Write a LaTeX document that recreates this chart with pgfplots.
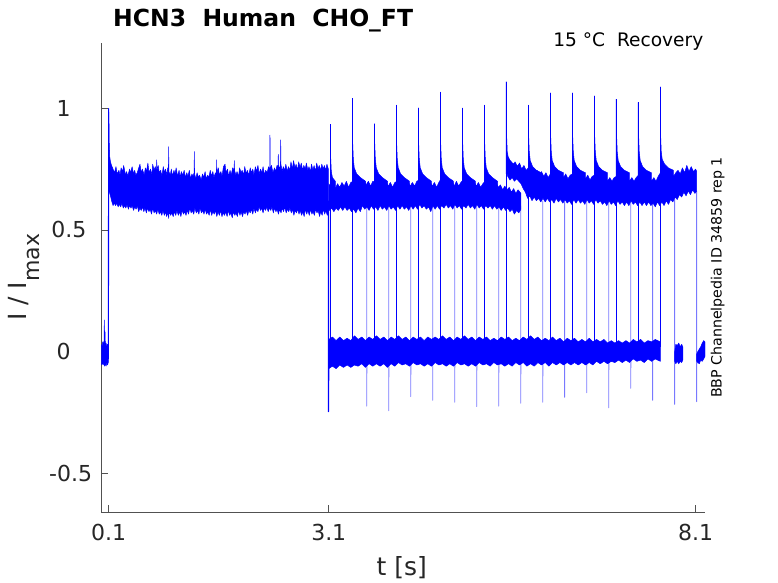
\documentclass[border=0pt]{standalone}
\usepackage{pgfplots}
\pgfplotsset{compat=1.18}
\usepackage{fontspec}
\setmainfont{DejaVu Sans}
\definecolor{axgray}{RGB}{38,38,38}
\definecolor{fallblue}{RGB}{120,120,255}
\pgfplotsset{
  band/.style={fill=blue, draw=blue, line width=0.5bp, mark=none, line join=round},
  spike/.style={draw=blue, line width=1.1bp, mark=none, line join=round},
  fallc/.style={draw=fallblue, line width=0.8bp, mark=none, line join=round},
}
\begin{document}
\begin{tikzpicture}
\path[use as bounding box] (0,0) rectangle (778bp,583bp);
\begin{axis}[
  at={(101.3bp,71bp)}, anchor=south west,
  scale only axis, width=603.7bp, height=468.7bp,
  xmin=0, xmax=8.228, ymin=-0.6592, ymax=1.267,
  axis x line=bottom, axis y line=left,
  axis line style={-, draw=axgray!80, line width=0.55bp},
  tick align=inside, major tick length=6.5bp,
  tick style={draw=axgray!80, line width=0.55bp},
  xtick={0.1,3.1,8.1}, xticklabels={0.1,3.1,8.1},
  ytick={-0.5,0,0.5,1}, yticklabels={-0.5,{0\hspace*{21.5bp}},{0.5\hspace*{5.8bp}},{1\hspace*{21.4bp}}},
  tick label style={font=\fontsize{22bp}{26bp}\selectfont, text=axgray},
  xticklabel style={anchor=base, inner sep=0pt, yshift=-29bp},
  yticklabel style={anchor=east, inner sep=0pt, xshift=-9bp},
]
% falls (tail currents)
\addplot[fallc] coordinates {(3.617,0.60) (3.617,-0.224) (3.620,-0.04)};
\addplot[fallc] coordinates {(3.917,0.60) (3.917,-0.243) (3.920,-0.04)};
\addplot[fallc] coordinates {(4.217,0.60) (4.217,-0.185) (4.220,-0.04)};
\addplot[fallc] coordinates {(4.516,0.60) (4.516,-0.200) (4.519,-0.04)};
\addplot[fallc] coordinates {(4.816,0.60) (4.816,-0.208) (4.819,-0.04)};
\addplot[fallc] coordinates {(5.116,0.60) (5.116,-0.226) (5.119,-0.04)};
\addplot[fallc] coordinates {(5.416,0.60) (5.416,-0.224) (5.419,-0.04)};
\addplot[fallc] coordinates {(5.716,0.60) (5.716,-0.212) (5.719,-0.04)};
\addplot[fallc] coordinates {(6.016,0.62) (6.016,-0.208) (6.019,-0.04)};
\addplot[fallc] coordinates {(6.315,0.62) (6.315,-0.188) (6.318,-0.04)};
\addplot[fallc] coordinates {(6.615,0.62) (6.615,-0.169) (6.618,-0.04)};
\addplot[fallc] coordinates {(6.915,0.62) (6.915,-0.231) (6.918,-0.04)};
\addplot[fallc] coordinates {(7.215,0.62) (7.215,-0.151) (7.218,-0.04)};
\addplot[fallc] coordinates {(7.514,0.62) (7.514,-0.200) (7.517,-0.04)};
\addplot[fallc] coordinates {(7.814,0.63) (7.814,-0.217) (7.817,-0.04)};
\addplot[fallc] coordinates {(8.114,0.66) (8.114,-0.206) (8.117,-0.04)};
% pre-pulse baseline
\addplot[band] coordinates {(0.0,0.03) (0.01,0.02) (0.02,0.04) (0.03,0.03) (0.038,0.045) (0.041,0.13) (0.045,0.05) (0.05,0.085) (0.055,0.03) (0.065,0.035) (0.075,0.02) (0.085,0.03) (0.095,0.02)
 (0.095,-0.045) (0.085,-0.055) (0.075,-0.045) (0.065,-0.06) (0.055,-0.05) (0.045,-0.06) (0.035,-0.045) (0.025,-0.055) (0.015,-0.045) (0.005,-0.055) (0.0,-0.04)} -- cycle;
% activation step 0.1 - 3.1
\addplot[band] coordinates {(0.100,1.00) (0.104,0.96) (0.108,0.86) (0.115,0.80) (0.125,0.78) (0.14,0.765) (0.16,0.75)
 (0.18,0.735) (0.20,0.76) (0.215,0.73) (0.24,0.745) (0.255,0.725) (0.27,0.755) (0.29,0.74) (0.305,0.765) (0.33,0.725) (0.345,0.74) (0.36,0.72) (0.385,0.75) (0.40,0.735) (0.42,0.76) (0.44,0.73) (0.455,0.745) (0.47,0.725) (0.49,0.735) (0.51,0.755) (0.527,0.77) (0.545,0.735) (0.56,0.75) (0.585,0.725) (0.60,0.755) (0.615,0.74) (0.635,0.775) (0.65,0.735) (0.67,0.75) (0.69,0.725) (0.70,0.77) (0.72,0.745) (0.735,0.76) (0.752,0.74) (0.755,0.788) (0.758,0.745) (0.775,0.765) (0.79,0.735) (0.81,0.745) (0.825,0.72) (0.845,0.76) (0.86,0.735) (0.875,0.75) (0.895,0.725) (0.905,0.755) (0.915,0.74) (0.918,0.842) (0.921,0.74) (0.94,0.725) (0.955,0.75) (0.97,0.72) (0.99,0.745) (1.005,0.73) (1.02,0.755) (1.04,0.72) (1.06,0.745) (1.075,0.715) (1.09,0.74) (1.11,0.725) (1.13,0.745) (1.145,0.715) (1.165,0.735) (1.18,0.72) (1.20,0.745) (1.215,0.71) (1.235,0.73) (1.25,0.72) (1.265,0.735) (1.268,0.822) (1.271,0.73) (1.29,0.71) (1.305,0.735) (1.325,0.715) (1.34,0.725) (1.36,0.705) (1.38,0.73) (1.395,0.715) (1.415,0.74) (1.43,0.71) (1.45,0.725) (1.465,0.715) (1.485,0.745) (1.50,0.72) (1.52,0.74) (1.535,0.715) (1.555,0.735) (1.569,0.73) (1.572,0.788) (1.575,0.73) (1.595,0.755) (1.61,0.725) (1.63,0.74) (1.645,0.72) (1.665,0.76) (1.686,0.77) (1.70,0.735) (1.72,0.75) (1.735,0.72) (1.755,0.745) (1.77,0.725) (1.79,0.755) (1.81,0.745) (1.813,0.785) (1.816,0.745) (1.835,0.725) (1.85,0.74) (1.87,0.72) (1.885,0.755) (1.905,0.735) (1.92,0.745) (1.94,0.725) (1.955,0.76) (1.975,0.73) (1.99,0.745) (2.01,0.725) (2.03,0.755) (2.045,0.735) (2.065,0.75) (2.08,0.725) (2.10,0.76) (2.115,0.74) (2.135,0.765) (2.15,0.73) (2.17,0.75) (2.19,0.735) (2.205,0.76) (2.225,0.725) (2.24,0.745) (2.26,0.735) (2.28,0.76) (2.296,0.745) (2.299,0.89) (2.302,0.75) (2.32,0.765) (2.34,0.735) (2.36,0.755) (2.375,0.74) (2.395,0.765) (2.409,0.76) (2.412,0.81) (2.415,0.765) (2.43,0.75) (2.442,0.77) (2.445,0.87) (2.448,0.77) (2.465,0.74) (2.48,0.76) (2.50,0.745) (2.515,0.77) (2.535,0.74) (2.55,0.76) (2.57,0.745) (2.585,0.78) (2.605,0.75) (2.62,0.785) (2.64,0.755) (2.655,0.77) (2.675,0.745) (2.69,0.78) (2.71,0.755) (2.725,0.775) (2.745,0.745) (2.76,0.765) (2.78,0.75) (2.795,0.775) (2.815,0.745) (2.83,0.76) (2.85,0.74) (2.865,0.77) (2.885,0.745) (2.90,0.765) (2.92,0.74) (2.935,0.775) (2.955,0.75) (2.97,0.765) (2.99,0.745) (3.005,0.77) (3.025,0.75) (3.04,0.765) (3.06,0.745) (3.075,0.77) (3.09,0.755) (3.095,0.75)
 (3.095,0.575) (3.08,0.56) (3.06,0.58) (3.045,0.565) (3.025,0.585) (3.01,0.56) (2.99,0.575) (2.975,0.555) (2.955,0.58) (2.94,0.57) (2.92,0.585) (2.905,0.56) (2.885,0.575) (2.87,0.565) (2.85,0.585) (2.835,0.56) (2.815,0.58) (2.80,0.565) (2.78,0.585) (2.765,0.555) (2.745,0.575) (2.73,0.56) (2.71,0.58) (2.695,0.565) (2.675,0.585) (2.66,0.57) (2.64,0.58) (2.625,0.56) (2.605,0.585) (2.59,0.57) (2.57,0.59) (2.555,0.575) (2.535,0.585) (2.52,0.57) (2.50,0.595) (2.485,0.575) (2.465,0.59) (2.45,0.57) (2.43,0.585) (2.415,0.565) (2.395,0.585) (2.38,0.575) (2.36,0.59) (2.345,0.57) (2.325,0.595) (2.31,0.58) (2.29,0.59) (2.275,0.575) (2.255,0.595) (2.24,0.58) (2.22,0.59) (2.205,0.57) (2.185,0.59) (2.17,0.58) (2.15,0.595) (2.135,0.575) (2.115,0.585) (2.10,0.57) (2.08,0.59) (2.065,0.565) (2.045,0.585) (2.03,0.57) (2.01,0.58) (1.995,0.56) (1.975,0.58) (1.96,0.565) (1.94,0.575) (1.925,0.555) (1.905,0.575) (1.89,0.56) (1.87,0.58) (1.855,0.555) (1.835,0.57) (1.82,0.56) (1.80,0.575) (1.785,0.55) (1.765,0.57) (1.75,0.56) (1.73,0.58) (1.715,0.555) (1.695,0.575) (1.68,0.56) (1.66,0.57) (1.645,0.555) (1.625,0.58) (1.61,0.56) (1.59,0.575) (1.575,0.555) (1.555,0.58) (1.54,0.565) (1.52,0.575) (1.505,0.56) (1.485,0.585) (1.47,0.56) (1.45,0.575) (1.435,0.565) (1.415,0.585) (1.40,0.565) (1.38,0.58) (1.365,0.57) (1.345,0.59) (1.33,0.565) (1.31,0.58) (1.295,0.57) (1.275,0.59) (1.26,0.565) (1.24,0.58) (1.225,0.57) (1.205,0.59) (1.19,0.565) (1.17,0.58) (1.155,0.56) (1.135,0.575) (1.12,0.565) (1.10,0.58) (1.085,0.555) (1.065,0.575) (1.05,0.56) (1.03,0.58) (1.015,0.56) (0.995,0.575) (0.98,0.555) (0.96,0.57) (0.945,0.56) (0.925,0.575) (0.918,0.547) (0.91,0.57) (0.89,0.555) (0.875,0.575) (0.86,0.56) (0.84,0.58) (0.825,0.56) (0.805,0.575) (0.79,0.565) (0.77,0.585) (0.755,0.565) (0.735,0.58) (0.72,0.57) (0.70,0.59) (0.685,0.565) (0.665,0.585) (0.65,0.575) (0.63,0.59) (0.615,0.57) (0.595,0.59) (0.58,0.575) (0.56,0.595) (0.545,0.58) (0.525,0.59) (0.51,0.575) (0.49,0.6) (0.475,0.585) (0.455,0.595) (0.44,0.58) (0.42,0.6) (0.405,0.59) (0.385,0.6) (0.37,0.585) (0.35,0.605) (0.335,0.59) (0.315,0.6) (0.30,0.59) (0.28,0.61) (0.265,0.595) (0.245,0.605) (0.23,0.595) (0.21,0.61) (0.195,0.6) (0.18,0.61) (0.16,0.60) (0.14,0.62) (0.125,0.64) (0.115,0.65) (0.105,0.66) (0.102,0.7)} -- cycle;
% plateau band A (3.1 - 5.72)
\addplot[band] coordinates {(3.100,0.69) (3.13,0.675) (3.16,0.695) (3.19,0.67) (3.22,0.69) (3.25,0.675) (3.28,0.695) (3.31,0.68) (3.34,0.70) (3.37,0.675) (3.40,0.695) (3.43,0.70) (3.46,0.715) (3.49,0.695) (3.52,0.71) (3.55,0.69) (3.58,0.705) (3.61,0.685) (3.64,0.70) (3.67,0.68) (3.70,0.70) (3.73,0.70) (3.76,0.715) (3.79,0.69) (3.82,0.705) (3.85,0.685) (3.88,0.70) (3.91,0.68) (3.94,0.695) (3.97,0.675) (4.00,0.695) (4.03,0.70) (4.06,0.71) (4.09,0.69) (4.12,0.705) (4.15,0.685) (4.18,0.70) (4.21,0.68) (4.24,0.695) (4.27,0.68) (4.30,0.70) (4.33,0.705) (4.36,0.715) (4.39,0.695) (4.42,0.71) (4.45,0.685) (4.48,0.70) (4.51,0.68) (4.54,0.695) (4.57,0.675) (4.60,0.695) (4.63,0.71) (4.66,0.72) (4.69,0.70) (4.72,0.71) (4.75,0.69) (4.78,0.705) (4.81,0.68) (4.84,0.70) (4.87,0.68) (4.90,0.695) (4.93,0.705) (4.96,0.715) (4.99,0.695) (5.02,0.705) (5.05,0.685) (5.08,0.70) (5.11,0.68) (5.14,0.695) (5.17,0.675) (5.20,0.69) (5.23,0.70) (5.26,0.71) (5.29,0.69) (5.32,0.70) (5.35,0.68) (5.38,0.695) (5.41,0.675) (5.44,0.685) (5.47,0.665) (5.50,0.68) (5.53,0.665) (5.56,0.675) (5.59,0.655) (5.62,0.67) (5.65,0.65) (5.68,0.665) (5.72,0.65)
 (5.72,0.585) (5.69,0.57) (5.66,0.58) (5.63,0.565) (5.60,0.585) (5.57,0.575) (5.54,0.59) (5.51,0.58) (5.48,0.595) (5.45,0.58) (5.42,0.595) (5.39,0.585) (5.36,0.60) (5.33,0.585) (5.30,0.60) (5.27,0.59) (5.24,0.60) (5.21,0.585) (5.18,0.60) (5.15,0.59) (5.12,0.605) (5.09,0.585) (5.06,0.60) (5.03,0.59) (5.00,0.605) (4.97,0.59) (4.94,0.60) (4.91,0.585) (4.88,0.60) (4.85,0.59) (4.82,0.605) (4.79,0.585) (4.76,0.60) (4.73,0.59) (4.70,0.605) (4.67,0.59) (4.64,0.60) (4.61,0.585) (4.58,0.60) (4.55,0.585) (4.52,0.60) (4.49,0.575) (4.46,0.595) (4.43,0.585) (4.40,0.60) (4.37,0.59) (4.34,0.605) (4.31,0.585) (4.28,0.60) (4.25,0.585) (4.22,0.60) (4.19,0.58) (4.16,0.595) (4.13,0.585) (4.10,0.60) (4.07,0.585) (4.04,0.60) (4.01,0.58) (3.98,0.595) (3.95,0.585) (3.92,0.60) (3.89,0.58) (3.86,0.595) (3.83,0.585) (3.80,0.60) (3.77,0.58) (3.74,0.595) (3.71,0.585) (3.68,0.60) (3.65,0.58) (3.62,0.595) (3.59,0.585) (3.56,0.60) (3.53,0.575) (3.50,0.59) (3.47,0.57) (3.44,0.585) (3.41,0.575) (3.38,0.59) (3.35,0.58) (3.32,0.595) (3.29,0.58) (3.26,0.595) (3.23,0.58) (3.20,0.59) (3.17,0.575) (3.14,0.59) (3.11,0.58) (3.100,0.59)} -- cycle;
% plateau band B (5.52 - 8.115)
\addplot[band] coordinates {(5.522,0.80) (5.54,0.795) (5.56,0.775) (5.58,0.785) (5.61,0.765) (5.64,0.78) (5.67,0.76) (5.70,0.775) (5.73,0.75) (5.76,0.765) (5.79,0.745) (5.82,0.755) (5.85,0.735) (5.88,0.75) (5.91,0.73) (5.94,0.745) (5.97,0.725) (6.00,0.74) (6.03,0.72) (6.06,0.735) (6.09,0.715) (6.12,0.73) (6.15,0.74) (6.18,0.725) (6.21,0.74) (6.24,0.72) (6.27,0.735) (6.30,0.715) (6.33,0.73) (6.36,0.71) (6.39,0.725) (6.42,0.73) (6.45,0.745) (6.48,0.725) (6.51,0.735) (6.54,0.715) (6.57,0.73) (6.60,0.71) (6.63,0.725) (6.66,0.705) (6.69,0.72) (6.72,0.725) (6.75,0.74) (6.78,0.715) (6.81,0.725) (6.84,0.705) (6.87,0.72) (6.90,0.70) (6.93,0.715) (6.96,0.70) (6.99,0.715) (7.02,0.72) (7.05,0.735) (7.08,0.71) (7.11,0.725) (7.14,0.705) (7.17,0.72) (7.20,0.70) (7.23,0.715) (7.26,0.70) (7.29,0.715) (7.32,0.725) (7.35,0.74) (7.38,0.715) (7.41,0.73) (7.44,0.705) (7.47,0.72) (7.50,0.70) (7.53,0.715) (7.56,0.70) (7.59,0.72) (7.62,0.735) (7.65,0.755) (7.68,0.73) (7.71,0.745) (7.74,0.725) (7.77,0.74) (7.80,0.72) (7.83,0.735) (7.86,0.745) (7.89,0.73) (7.92,0.755) (7.95,0.735) (7.98,0.765) (8.01,0.74) (8.04,0.76) (8.07,0.74) (8.10,0.75) (8.115,0.74)
 (8.115,0.66) (8.09,0.65) (8.06,0.665) (8.03,0.645) (8.00,0.66) (7.97,0.64) (7.94,0.655) (7.91,0.635) (7.88,0.645) (7.85,0.625) (7.82,0.635) (7.79,0.615) (7.76,0.625) (7.73,0.605) (7.70,0.62) (7.67,0.60) (7.64,0.615) (7.61,0.60) (7.58,0.615) (7.55,0.595) (7.52,0.61) (7.49,0.60) (7.46,0.615) (7.43,0.60) (7.40,0.615) (7.37,0.60) (7.34,0.615) (7.31,0.60) (7.28,0.615) (7.25,0.605) (7.22,0.62) (7.19,0.60) (7.16,0.615) (7.13,0.60) (7.10,0.615) (7.07,0.605) (7.04,0.62) (7.01,0.60) (6.98,0.615) (6.95,0.605) (6.92,0.62) (6.89,0.60) (6.86,0.615) (6.83,0.605) (6.80,0.62) (6.77,0.61) (6.74,0.625) (6.71,0.605) (6.68,0.62) (6.65,0.61) (6.62,0.625) (6.59,0.605) (6.56,0.62) (6.53,0.61) (6.50,0.625) (6.47,0.61) (6.44,0.625) (6.41,0.605) (6.38,0.62) (6.35,0.61) (6.32,0.625) (6.29,0.61) (6.26,0.625) (6.23,0.615) (6.20,0.63) (6.17,0.61) (6.14,0.625) (6.11,0.615) (6.08,0.63) (6.05,0.615) (6.02,0.63) (5.99,0.615) (5.96,0.63) (5.93,0.62) (5.90,0.635) (5.87,0.62) (5.84,0.64) (5.81,0.63) (5.78,0.655) (5.75,0.67) (5.72,0.69) (5.69,0.70) (5.66,0.71) (5.63,0.70) (5.60,0.715) (5.57,0.705) (5.54,0.72) (5.522,0.74)} -- cycle;
% zero band after 3.1
\addplot[band] coordinates {(3.100,0.05) (3.15,0.06) (3.20,0.045) (3.25,0.06) (3.30,0.045) (3.35,0.055) (3.40,0.045) (3.45,0.065) (3.50,0.05) (3.55,0.06) (3.60,0.045) (3.65,0.06) (3.70,0.05) (3.75,0.065) (3.80,0.05) (3.85,0.06) (3.90,0.045) (3.95,0.06) (4.00,0.05) (4.05,0.065) (4.10,0.05) (4.15,0.06) (4.20,0.045) (4.25,0.06) (4.30,0.05) (4.35,0.06) (4.40,0.045) (4.45,0.06) (4.50,0.05) (4.55,0.06) (4.60,0.05) (4.65,0.065) (4.70,0.05) (4.75,0.06) (4.80,0.045) (4.85,0.06) (4.90,0.05) (4.95,0.065) (5.00,0.05) (5.05,0.06) (5.10,0.045) (5.15,0.06) (5.20,0.05) (5.25,0.06) (5.30,0.045) (5.35,0.055) (5.40,0.045) (5.45,0.06) (5.50,0.05) (5.55,0.06) (5.60,0.045) (5.65,0.055) (5.70,0.045) (5.75,0.06) (5.80,0.05) (5.85,0.065) (5.90,0.05) (5.95,0.06) (6.00,0.045) (6.05,0.055) (6.10,0.045) (6.15,0.06) (6.20,0.045) (6.25,0.055) (6.30,0.04) (6.35,0.055) (6.40,0.045) (6.45,0.055) (6.50,0.04) (6.55,0.05) (6.60,0.04) (6.65,0.055) (6.70,0.04) (6.75,0.05) (6.80,0.04) (6.85,0.05) (6.90,0.035) (6.95,0.045) (7.00,0.035) (7.05,0.045) (7.10,0.035) (7.15,0.045) (7.20,0.035) (7.25,0.05) (7.30,0.04) (7.35,0.05) (7.40,0.035) (7.45,0.045) (7.50,0.04) (7.55,0.05) (7.618,0.04)
 (7.618,-0.04) (7.55,-0.03) (7.50,-0.04) (7.45,-0.03) (7.40,-0.045) (7.35,-0.035) (7.30,-0.04) (7.25,-0.03) (7.20,-0.045) (7.15,-0.035) (7.10,-0.045) (7.05,-0.035) (7.00,-0.045) (6.95,-0.04) (6.90,-0.05) (6.85,-0.04) (6.80,-0.05) (6.75,-0.04) (6.70,-0.055) (6.65,-0.045) (6.60,-0.055) (6.55,-0.045) (6.50,-0.055) (6.45,-0.045) (6.40,-0.055) (6.35,-0.045) (6.30,-0.055) (6.25,-0.045) (6.20,-0.055) (6.15,-0.045) (6.10,-0.06) (6.05,-0.045) (6.00,-0.055) (5.95,-0.045) (5.90,-0.06) (5.85,-0.05) (5.80,-0.06) (5.75,-0.045) (5.70,-0.055) (5.65,-0.045) (5.60,-0.06) (5.55,-0.05) (5.50,-0.06) (5.45,-0.05) (5.40,-0.055) (5.35,-0.045) (5.30,-0.06) (5.25,-0.05) (5.20,-0.055) (5.15,-0.045) (5.10,-0.06) (5.05,-0.05) (5.00,-0.06) (4.95,-0.05) (4.90,-0.055) (4.85,-0.045) (4.80,-0.06) (4.75,-0.05) (4.70,-0.06) (4.65,-0.05) (4.60,-0.055) (4.55,-0.045) (4.50,-0.06) (4.45,-0.05) (4.40,-0.06) (4.35,-0.05) (4.30,-0.055) (4.25,-0.045) (4.20,-0.06) (4.15,-0.05) (4.10,-0.055) (4.05,-0.045) (4.00,-0.06) (3.95,-0.05) (3.90,-0.065) (3.85,-0.05) (3.80,-0.06) (3.75,-0.05) (3.70,-0.06) (3.65,-0.05) (3.60,-0.065) (3.55,-0.05) (3.50,-0.06) (3.45,-0.055) (3.40,-0.065) (3.35,-0.055) (3.30,-0.065) (3.25,-0.055) (3.20,-0.07) (3.15,-0.06) (3.10,-0.07)} -- cycle;
% short baseline pieces at the end
\addplot[band] coordinates {(7.815,0.0) (7.83,0.03) (7.85,0.025) (7.87,0.035) (7.89,0.02) (7.91,0.03) (7.925,0.02) (7.925,-0.035) (7.91,-0.045) (7.89,-0.04) (7.87,-0.05) (7.85,-0.04) (7.83,-0.05) (7.815,-0.04)} -- cycle;
\addplot[band] coordinates {(8.115,-0.01) (8.13,0.0) (8.15,0.01) (8.17,0.02) (8.19,0.035) (8.21,0.045) (8.228,0.04) (8.228,-0.02) (8.21,-0.03) (8.19,-0.04) (8.17,-0.035) (8.15,-0.05) (8.13,-0.045) (8.115,-0.04)} -- cycle;
% onset at 0.1 and drop at 3.1
\addplot[spike] coordinates {(0.096,-0.03) (0.099,0.6) (0.100,1.0)};
\addplot[spike] coordinates {(3.096,0.62) (3.096,-0.247) (3.101,-0.05)};
% test-pulse onsets with capacitive peaks and their decays
\addplot[spike] coordinates {(3.121,0.02) (3.121,0.934)};
\addplot[band] coordinates {(3.121,0.934) (3.126,0.80) (3.135,0.74) (3.15,0.715) (3.19,0.70) (3.19,0.67) (3.121,0.67)} -- cycle;
\addplot[spike] coordinates {(3.421,0.02) (3.421,1.041)};
\addplot[band] coordinates {(3.421,1.041) (3.426,0.86) (3.435,0.79) (3.448,0.755) (3.481,0.73) (3.531,0.715) (3.601,0.70) (3.601,0.67) (3.421,0.67)} -- cycle;
\addplot[spike] coordinates {(3.721,0.02) (3.721,0.937)};
\addplot[band] coordinates {(3.721,0.937) (3.726,0.86) (3.735,0.79) (3.748,0.755) (3.781,0.73) (3.831,0.715) (3.901,0.70) (3.901,0.67) (3.721,0.67)} -- cycle;
\addplot[spike] coordinates {(4.020,0.02) (4.020,1.013)};
\addplot[band] coordinates {(4.020,1.013) (4.025,0.86) (4.034,0.79) (4.047,0.755) (4.080,0.73) (4.130,0.715) (4.200,0.70) (4.200,0.67) (4.020,0.67)} -- cycle;
\addplot[spike] coordinates {(4.320,0.02) (4.320,1.002)};
\addplot[band] coordinates {(4.320,1.002) (4.325,0.86) (4.334,0.79) (4.347,0.755) (4.380,0.73) (4.430,0.715) (4.500,0.70) (4.500,0.67) (4.320,0.67)} -- cycle;
\addplot[spike] coordinates {(4.620,0.02) (4.620,1.066)};
\addplot[band] coordinates {(4.620,1.066) (4.625,0.86) (4.634,0.79) (4.647,0.755) (4.680,0.73) (4.730,0.715) (4.800,0.70) (4.800,0.67) (4.620,0.67)} -- cycle;
\addplot[spike] coordinates {(4.920,0.02) (4.920,1.001)};
\addplot[band] coordinates {(4.920,1.001) (4.925,0.86) (4.934,0.79) (4.947,0.755) (4.980,0.73) (5.030,0.715) (5.100,0.70) (5.100,0.67) (4.920,0.67)} -- cycle;
\addplot[spike] coordinates {(5.220,0.02) (5.220,1.013)};
\addplot[band] coordinates {(5.220,1.013) (5.225,0.86) (5.234,0.79) (5.247,0.755) (5.280,0.73) (5.330,0.715) (5.400,0.70) (5.400,0.67) (5.220,0.67)} -- cycle;
\addplot[spike] coordinates {(5.519,0.02) (5.519,1.109)};
\addplot[band] coordinates {(5.519,1.109) (5.524,0.89) (5.533,0.82) (5.546,0.80) (5.579,0.78) (5.629,0.77) (5.699,0.76) (5.699,0.73) (5.519,0.73)} -- cycle;
\addplot[spike] coordinates {(5.819,0.02) (5.819,1.013)};
\addplot[band] coordinates {(5.819,1.013) (5.824,0.89) (5.833,0.82) (5.846,0.785) (5.879,0.76) (5.929,0.745) (5.999,0.735) (5.999,0.70) (5.819,0.70)} -- cycle;
\addplot[spike] coordinates {(6.119,0.02) (6.119,1.063)};
\addplot[band] coordinates {(6.119,1.063) (6.124,0.89) (6.133,0.82) (6.146,0.785) (6.179,0.76) (6.229,0.745) (6.299,0.735) (6.299,0.70) (6.119,0.70)} -- cycle;
\addplot[spike] coordinates {(6.419,0.02) (6.419,1.063)};
\addplot[band] coordinates {(6.419,1.063) (6.424,0.89) (6.433,0.82) (6.446,0.785) (6.479,0.76) (6.529,0.745) (6.599,0.735) (6.599,0.70) (6.419,0.70)} -- cycle;
\addplot[spike] coordinates {(6.719,0.02) (6.719,1.051)};
\addplot[band] coordinates {(6.719,1.051) (6.724,0.89) (6.733,0.82) (6.746,0.785) (6.779,0.76) (6.829,0.745) (6.899,0.735) (6.899,0.70) (6.719,0.70)} -- cycle;
\addplot[spike] coordinates {(7.018,0.02) (7.018,1.037)};
\addplot[band] coordinates {(7.018,1.037) (7.023,0.89) (7.032,0.82) (7.045,0.785) (7.078,0.76) (7.128,0.745) (7.198,0.735) (7.198,0.70) (7.018,0.70)} -- cycle;
\addplot[spike] coordinates {(7.318,0.02) (7.318,1.024)};
\addplot[band] coordinates {(7.318,1.024) (7.323,0.89) (7.332,0.82) (7.345,0.785) (7.378,0.76) (7.428,0.745) (7.498,0.735) (7.498,0.70) (7.318,0.70)} -- cycle;
\addplot[spike] coordinates {(7.618,0.02) (7.618,1.088)};
\addplot[band] coordinates {(7.618,1.088) (7.623,0.89) (7.632,0.82) (7.645,0.79) (7.678,0.77) (7.728,0.755) (7.798,0.745) (7.798,0.71) (7.618,0.71)} -- cycle;
\end{axis}
\node[anchor=base west, inner sep=0pt, font=\bfseries\fontsize{23.5bp}{28bp}\selectfont] at (113bp,556.5bp) {HCN3\ \ Human\ \ CHO\_FT};
\node[anchor=base east, inner sep=0pt, font=\fontsize{18.6bp}{22bp}\selectfont] at (703.5bp,536bp) {15 °C\ \ Recovery};
\node[anchor=base, rotate=90, inner sep=0pt, font=\fontsize{14.2bp}{17bp}\selectfont] at (721.5bp,305.5bp) {BBP Channelpedia ID 34859 rep 1};
\node[anchor=base, rotate=90, inner sep=0pt, font=\fontsize{25bp}{30bp}\selectfont, text=axgray] at (26bp,305.7bp) {I / I\raisebox{-13.3bp}{\fontsize{22bp}{22bp}\selectfont max}};
\node[anchor=base, inner sep=0pt, font=\fontsize{25bp}{30bp}\selectfont, text=axgray] at (401.7bp,8bp) {t [s]};
\end{tikzpicture}
\end{document}
